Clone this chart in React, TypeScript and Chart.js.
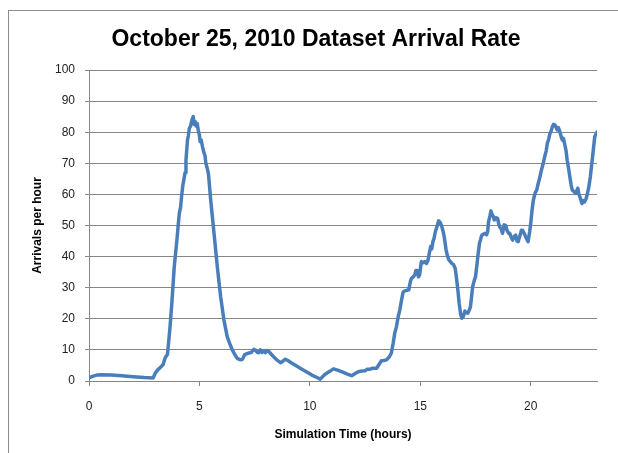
import React, { useEffect, useRef } from "react";
import { Chart, registerables } from "chart.js";

Chart.register(...registerables);

const titleText = "October 25, 2010 Dataset Arrival Rate";
const xTitle = "Simulation Time (hours)";
const yTitle = "Arrivals per hour";

const xTicks = [0, 5, 10, 15, 20];
const yTicks = [0, 10, 20, 30, 40, 50, 60, 70, 80, 90, 100];

const hours = [
  0.0, 0.15, 0.35, 0.6, 1.0, 1.5, 2.0, 2.5, 2.9, 3.0, 3.1, 3.25, 3.35, 3.45, 3.55, 3.6, 3.67, 3.76, 3.86, 3.98,
  4.05, 4.09, 4.15, 4.19, 4.25, 4.3, 4.35, 4.39, 4.46, 4.5, 4.54, 4.6, 4.66, 4.72, 4.76, 4.8, 4.85, 4.9, 4.95, 5.0,
  5.03, 5.08, 5.14, 5.2, 5.25, 5.29, 5.35, 5.41, 5.51, 5.66, 5.81, 5.96, 6.11, 6.26, 6.4, 6.49, 6.6, 6.71, 6.86, 6.95,
  7.05, 7.15, 7.25, 7.35, 7.46, 7.55, 7.62, 7.69, 7.76, 7.84, 7.92, 7.99, 8.05, 8.11, 8.2, 8.36, 8.5, 8.67, 8.75, 8.89,
  9.0, 9.19, 9.4, 9.64, 9.9, 10.09, 10.3, 10.47, 10.58, 10.69, 10.9, 11.07, 11.25, 11.44, 11.7, 11.89, 12.05, 12.19, 12.35, 12.5,
  12.6, 12.72, 12.85, 13.02, 13.1, 13.24, 13.35, 13.47, 13.6, 13.69, 13.77, 13.84, 13.92, 14.0, 14.07, 14.15, 14.22, 14.3, 14.4, 14.48,
  14.55, 14.6, 14.68, 14.75, 14.8, 14.86, 14.92, 14.97, 15.02, 15.05, 15.12, 15.2, 15.28, 15.35, 15.42, 15.47, 15.52, 15.57, 15.62, 15.68,
  15.75, 15.83, 15.9, 15.95, 16.02, 16.07, 16.12, 16.17, 16.22, 16.28, 16.35, 16.43, 16.5, 16.58, 16.64, 16.7, 16.76, 16.82, 16.88, 16.93,
  16.97, 17.02, 17.08, 17.15, 17.22, 17.27, 17.32, 17.37, 17.45, 17.5, 17.57, 17.62, 17.68, 17.73, 17.78, 17.85, 17.93, 18.0, 18.05, 18.09,
  18.15, 18.2, 18.25, 18.3, 18.35, 18.42, 18.5, 18.55, 18.6, 18.65, 18.72, 18.8, 18.87, 18.92, 19.0, 19.05, 19.1, 19.18, 19.25, 19.32,
  19.38, 19.43, 19.5, 19.58, 19.63, 19.7, 19.77, 19.83, 19.88, 19.95, 20.0, 20.06, 20.12, 20.2, 20.27, 20.32, 20.38, 20.43, 20.48, 20.55,
  20.63, 20.7, 20.75, 20.82, 20.87, 20.93, 20.98, 21.03, 21.1, 21.15, 21.2, 21.25, 21.32, 21.38, 21.43, 21.48, 21.53, 21.6, 21.65, 21.72,
  21.77, 21.83, 21.88, 21.95, 22.03, 22.08, 22.13, 22.18, 22.22, 22.28, 22.32, 22.38, 22.43, 22.5, 22.55, 22.62, 22.7, 22.75, 22.8, 22.85,
  22.9, 23.0,
];

const arrivals = [
  1.0, 1.5, 1.9, 2.0, 1.9, 1.7, 1.4, 1.1, 1.0, 2.5, 3.5, 4.5, 5.2, 7.5, 8.5, 12, 17.5, 26, 36.8, 45.3,
  51, 54, 56, 59.3, 63, 65, 67, 71, 77.5, 79, 81.2, 82, 83.9, 85, 82.5, 83.5, 82, 82.8, 80.5, 79,
  77, 77.5, 75.3, 73.5, 72.5, 70, 68.5, 66.5, 58.2, 47.5, 36.7, 27.1, 19.6, 14.2, 11.5, 10, 8.5, 7.3, 6.8, 7.0,
  8.5, 8.8, 9.0, 9.2, 10.2, 9.8, 9.2, 9.1, 10.0, 9.2, 9.8, 9.1, 9.8, 9.7, 9.0, 7.8, 6.8, 5.9, 6.2, 7.0,
  6.6, 5.7, 4.8, 3.8, 2.7, 1.9, 1.2, 0.6, 1.4, 2.2, 3.1, 3.9, 3.5, 3.0, 2.2, 1.7, 2.4, 3.0, 3.2, 3.3,
  3.8, 3.8, 4.1, 4.1, 5.0, 6.5, 6.6, 6.8, 7.8, 9.0, 12.1, 15.3, 17.5, 20.7, 22.8, 26, 28.5, 29, 29.2, 29.3,
  32, 33, 33.5, 34.1, 35.5, 35.5, 33.5, 34.1, 37, 38.4, 38.0, 38.4, 37.8, 38.9, 41.5, 43.2, 42.5, 44.8, 45.8, 48,
  49.5, 51.5, 51, 50.2, 48.5, 46.9, 44.5, 42.1, 40.5, 39.1, 38.5, 37.8, 37.5, 36.2, 33, 29.3, 25, 21.8, 20.2, 20.5,
  21.2, 22.5, 22, 21.8, 22.8, 23.9, 27, 30.3, 32.5, 33.5, 37.8, 41, 44.3, 45.5, 46.9, 47.2, 47.5, 47, 48, 51.2,
  53, 54.7, 53.5, 53, 51.8, 52.5, 52.3, 50.5, 49.5, 49.1, 47.5, 50.2, 50.0, 48.5, 47.5, 47.5, 46.5, 45.3, 46.5, 46.9,
  45, 44.8, 46.5, 48.5, 48.5, 47.5, 46.4, 45.5, 44.8, 48, 50.7, 55, 58.2, 60.5, 61.4, 63, 64.6, 66, 67.8, 69.5,
  72.1, 74, 76.4, 78, 79.6, 80.5, 81.8, 82.5, 82.3, 81.5, 80.7, 81.5, 80.2, 78.5, 77.5, 78, 76.4, 74, 71, 68,
  65.7, 63, 61.4, 61, 60.3, 61, 62, 60, 59.3, 58, 57.1, 58, 57.6, 58.5, 59.8, 62, 65.7, 69, 72.1, 75.5,
  78.6, 80,
];

const FONT = "'Liberation Sans', Arial, sans-serif";
const GRID = "#868686";

export default function App() {
  const ref = useRef<HTMLCanvasElement>(null);

  useEffect(() => {
    if (!ref.current) return;
    const titlePlugin = {
      id: "mainTitle",
      afterDraw(chart: any) {
        const ctx = chart.ctx;
        ctx.save();
        ctx.font = `bold 23px ${FONT}`;
        ctx.fillStyle = "#000";
        ctx.textAlign = "center";
        ctx.textBaseline = "middle";
        ctx.fillText(titleText, 316, 40);
        ctx.restore();
      },
    };
    const chart = new Chart(ref.current, {
      type: "line",
      data: {
        datasets: [
          {
            data: hours.map((h, i) => ({ x: h, y: arrivals[i] })),
            borderColor: "#4a7ebb",
            borderWidth: 3.5,
            pointRadius: 0,
            tension: 0,
            fill: false,
            borderJoinStyle: "round",
            borderCapStyle: "round",
          },
        ],
      },
      options: {
        animation: false,
        responsive: false,
        layout: { padding: { left: 0, top: 70, right: 21, bottom: 0 } },
        plugins: { legend: { display: false }, tooltip: { enabled: false } },
        scales: {
          x: {
            type: "linear",
            min: 0,
            max: 23,
            afterFit(s: any) {
              s.height = 72;
            },
            afterBuildTicks(s: any) {
              s.ticks = xTicks.map((v) => ({ value: v }));
            },
            grid: { drawOnChartArea: false, drawTicks: true, tickLength: 5, color: GRID },
            border: { color: GRID },
            ticks: {
              font: { family: FONT, size: 12 },
              color: "#222",
              padding: 13,
              maxRotation: 0,
              autoSkip: false,
            },
            title: {
              display: true,
              text: xTitle,
              font: { family: FONT, size: 12, weight: "bold" },
              color: "#000",
              padding: { top: 0, bottom: 11.4 },
            },
          },
          y: {
            type: "linear",
            min: 0,
            max: 100,
            afterFit(s: any) {
              s.width = 89;
            },
            afterBuildTicks(s: any) {
              s.ticks = yTicks.map((v) => ({ value: v }));
            },
            grid: { color: GRID, tickLength: 4 },
            border: { color: GRID },
            ticks: {
              font: { family: FONT, size: 12 },
              color: "#222",
              padding: 10,
              autoSkip: false,
            },
            title: {
              display: true,
              text: yTitle,
              font: { family: FONT, size: 12, weight: "bold" },
              color: "#000",
              padding: { top: 30.4, bottom: 0 },
            },
          },
        },
      },
      plugins: [titlePlugin],
    } as any);
    return () => chart.destroy();
  }, []);

  return (
    <div
      style={{
        position: "fixed",
        left: 0,
        top: 0,
        width: 618,
        height: 453,
        overflow: "hidden",
        background: "#fff",
      }}
    >
      <div
        style={{
          position: "absolute",
          left: 8,
          top: 10,
          width: 700,
          height: 600,
          borderLeft: "1px solid #8c8c8c",
          borderTop: "1px solid #8c8c8c",
        }}
      />
      <canvas
        ref={ref}
        width={618}
        height={453}
        style={{ position: "absolute", left: 0, top: 0, width: 618, height: 453 }}
      />
    </div>
  );
}
